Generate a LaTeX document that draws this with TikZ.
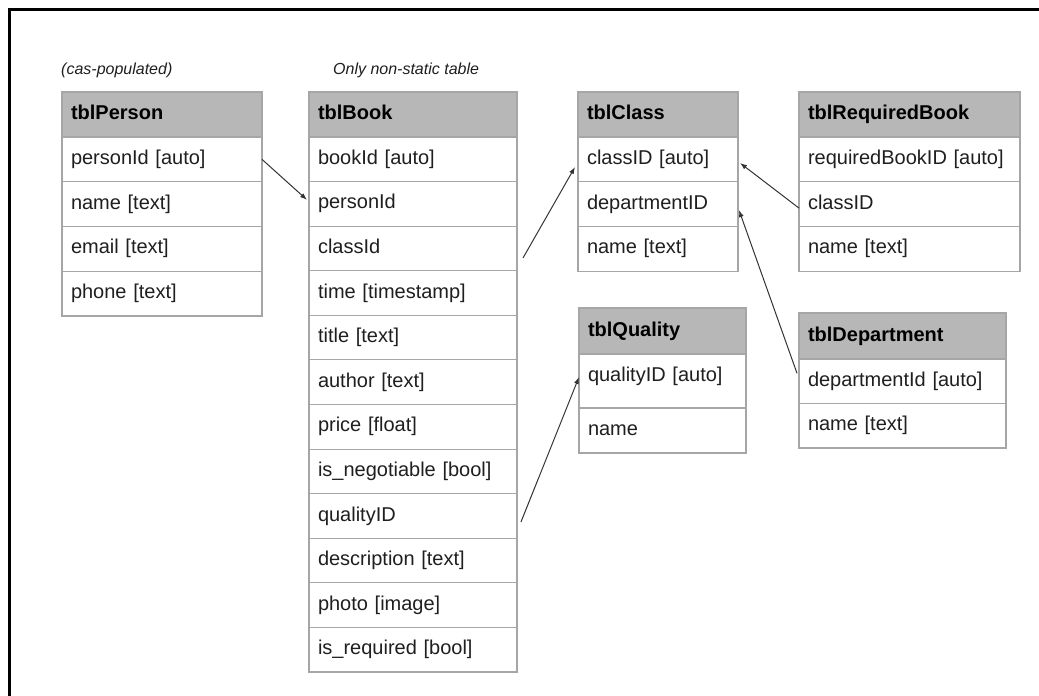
\documentclass[tikz,border=0pt]{standalone}
\usepackage{fontspec}
\setmainfont{Liberation Sans}
\usetikzlibrary{arrows.meta}
\definecolor{bd}{HTML}{A6A6A6}
\definecolor{hd}{HTML}{B7B7B7}
\definecolor{tx}{HTML}{1F1F1F}
\definecolor{ln}{HTML}{333333}
\begin{document}
\begin{tikzpicture}[x=1pt,y=-1pt,
 cell/.style={draw=bd, line width=1.1pt, anchor=north west, outer sep=0pt, inner xsep=9pt, inner ysep=0pt,
   text width=#1, align=left, font=\fontsize{20}{24}\selectfont, text=tx, text height=14.5pt, text depth=4.3pt},
 head/.style={cell=#1, fill=hd, font=\fontsize{20}{24}\selectfont\bfseries, text=black},
 note/.style={anchor=west, font=\fontsize{16}{19}\selectfont\itshape, text=tx, inner sep=0pt},
 link/.style={draw=ln, line width=1pt, -{Latex[length=7pt,width=5pt]}}
]
\useasboundingbox (0,0) rectangle (1039,696);
\fill[white] (0,0) rectangle (1039,696);
\draw[line width=2.7pt] (9.5,696) -- (9.5,9.5) -- (1039,9.5);

\node[note] (n1) at (61,70) {(cas-populated)};
\node[note] (n2) at (333,70) {Only non-static table};

% tblPerson
\node[head=182pt, minimum height=45] (p0) at (62,92) {tblPerson};
\node[cell=182pt, minimum height=44.75] (p1) at (p0.south west) {personId [auto]};
\node[cell=182pt, minimum height=44.75] (p2) at (p1.south west) {name [text]};
\node[cell=182pt, minimum height=44.75] (p3) at (p2.south west) {email [text]};
\node[cell=182pt, minimum height=44.75] (p4) at (p3.south west) {phone [text]};

% tblBook
\node[head=190pt, minimum height=45] (b0) at (309,92) {tblBook};
\node[cell=190pt, minimum height=44.58] (b1) at (b0.south west) {bookId [auto]};
\node[cell=190pt, minimum height=44.58] (b2) at (b1.south west) {personId};
\node[cell=190pt, minimum height=44.58] (b3) at (b2.south west) {classId};
\node[cell=190pt, minimum height=44.58] (b4) at (b3.south west) {time [timestamp]};
\node[cell=190pt, minimum height=44.58] (b5) at (b4.south west) {title [text]};
\node[cell=190pt, minimum height=44.58] (b6) at (b5.south west) {author [text]};
\node[cell=190pt, minimum height=44.58] (b7) at (b6.south west) {price [float]};
\node[cell=190pt, minimum height=44.58] (b8) at (b7.south west) {is\_negotiable [bool]};
\node[cell=190pt, minimum height=44.58] (b9) at (b8.south west) {qualityID};
\node[cell=190pt, minimum height=44.58] (b10) at (b9.south west) {description [text]};
\node[cell=190pt, minimum height=44.58] (b11) at (b10.south west) {photo [image]};
\node[cell=190pt, minimum height=44.58] (b12) at (b11.south west) {is\_required [bool]};

% tblClass
\node[head=142pt, minimum height=45] (c0) at (578,92) {tblClass};
\node[cell=142pt, minimum height=44.75] (c1) at (c0.south west) {classID [auto]};
\node[cell=142pt, minimum height=44.75] (c2) at (c1.south west) {departmentID};
\node[cell=142pt, minimum height=44.75] (c3) at (c2.south west) {name [text]};

% tblRequiredBook
\node[head=203pt, minimum height=45] (r0) at (799,92) {tblRequiredBook};
\node[cell=203pt, minimum height=44.75] (r1) at (r0.south west) {requiredBookID [auto]};
\node[cell=203pt, minimum height=44.75] (r2) at (r1.south west) {classID};
\node[cell=203pt, minimum height=44.75] (r3) at (r2.south west) {name [text]};

% tblQuality
\node[head=149pt, minimum height=46] (q0) at (579,308) {tblQuality};
\node[cell=149pt, minimum height=54, text depth=13.5pt] (q1) at (q0.south west) {qualityID [auto]};
\node[cell=149pt, minimum height=45] (q2) at (q1.south west) {name};

% tblDepartment
\node[head=189pt, minimum height=46] (d0) at (799,313) {tblDepartment};
\node[cell=189pt, minimum height=44.5] (dp1) at (d0.south west) {departmentId [auto]};
\node[cell=189pt, minimum height=44.5] (dp2) at (dp1.south west) {name [text]};

% connectors
\draw[link] (p1.east) -- ([shift={(-2,-4)}]b2.west);
\draw[link] ([shift={(6,9.5)}]b3.east) -- ([shift={(-3,7.6)}]c1.west);
\draw[link] ([shift={(0,4)}]r2.west) -- ([shift={(2,3.6)}]c1.east);
\draw[link] ([shift={(-2,-8)}]dp1.west) -- ([shift={(1,6)}]c2.east);
\draw[link] ([shift={(4,6)}]b9.east) -- ([shift={(0,-4)}]q1.west);
\end{tikzpicture}
\end{document}
